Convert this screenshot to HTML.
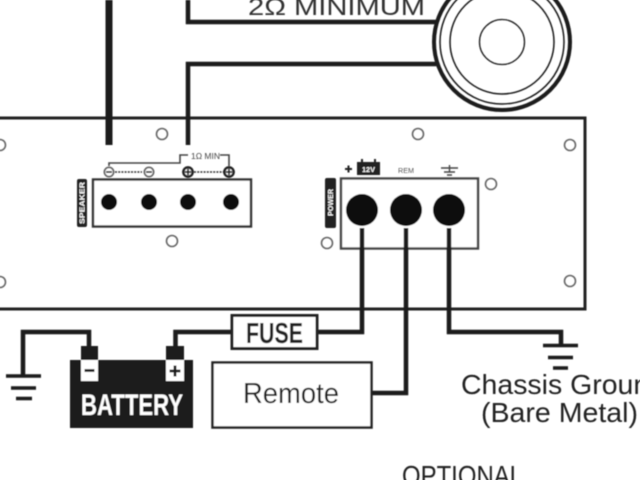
<!DOCTYPE html>
<html><head><meta charset="utf-8"><style>
html,body{margin:0;padding:0;background:#fff;width:640px;height:480px;overflow:hidden}
svg{display:block}
text{font-family:"Liberation Sans",sans-serif}
</style></head><body>
<svg width="640" height="480" viewBox="0 0 640 480" xmlns="http://www.w3.org/2000/svg">
<defs><filter id="b" x="0" y="0" width="100%" height="100%"><feGaussianBlur stdDeviation="0.45"/></filter></defs>
<rect width="640" height="480" fill="#fff"/>
<g filter="url(#b)">
<!-- speaker -->
<g fill="none" stroke="#1a1a1a">
<circle cx="502" cy="42" r="68" stroke-width="4"/>
<circle cx="502" cy="42" r="62" stroke-width="1.5"/>
<circle cx="502" cy="42" r="52" stroke-width="1.5"/>
<circle cx="502" cy="42" r="22.5" stroke-width="1.3"/>
</g>
<!-- amp -->
<path d="M-5 118H585V309H-5" fill="none" stroke="#222" stroke-width="3"/>
<g fill="none" stroke="#666" stroke-width="1.6">
<circle cx="0" cy="145" r="5.5"/><circle cx="0" cy="282" r="5.5"/>
<circle cx="162" cy="134" r="5.5"/><circle cx="172" cy="241" r="5.5"/>
<circle cx="418" cy="134" r="5.5"/><circle cx="327" cy="243" r="5.5"/>
<circle cx="491" cy="184" r="5.5"/><circle cx="570" cy="145" r="5.5"/><circle cx="570" cy="281" r="5.5"/>
</g>
<!-- speaker wires -->
<g fill="none" stroke="#1a1a1a" stroke-linejoin="miter">
<path d="M109 0V145" stroke-width="7"/>
<path d="M188 0V22H438" stroke-width="4.5"/>
<path d="M188 145V64H438" stroke-width="4.5"/>
</g>
<text x="248" y="15" font-size="24" fill="#333" textLength="177" lengthAdjust="spacingAndGlyphs">2Ω MINIMUM</text>
<!-- speaker terminal -->
<rect x="93" y="179.5" width="158" height="47" fill="#fff" stroke="#333" stroke-width="2.4"/>
<g fill="#111"><circle cx="109" cy="202" r="8"/><circle cx="149" cy="202" r="8"/><circle cx="188" cy="202" r="8"/><circle cx="231" cy="202" r="8"/></g>
<rect x="77" y="179" width="10" height="48" rx="2" fill="#222"/>
<text transform="translate(84.5,224) rotate(-90)" font-size="7" font-weight="bold" fill="#fff" textLength="42" lengthAdjust="spacingAndGlyphs">SPEAKER</text>
<path d="M109 166V163H180V155H188M220 155H229V166" fill="none" stroke="#444" stroke-width="1.6"/>
<text x="191" y="159" font-size="8.500" fill="#444" textLength="29" lengthAdjust="spacingAndGlyphs">1Ω MIN</text>
<path d="M115 172H142M194 172H225" stroke="#333" stroke-width="1.400" stroke-dasharray="2 1.200"/>
<circle cx="109" cy="172" r="4.600" fill="#fff" stroke="#666" stroke-width="1.800"/>
<circle cx="149" cy="172" r="4.600" fill="#fff" stroke="#666" stroke-width="1.800"/>
<path d="M106 172H112M146 172H152" stroke="#333" stroke-width="1.800"/>
<circle cx="188" cy="172" r="4.600" fill="#fff" stroke="#222" stroke-width="2.600"/>
<circle cx="229" cy="172" r="4.600" fill="#fff" stroke="#222" stroke-width="2.600"/>
<path d="M185 172H191M188 169V175M226 172H232M229 169V175" stroke="#222" stroke-width="1.800"/>
<!-- power terminal -->
<rect x="341" y="178.500" width="137" height="70" fill="#fff" stroke="#444" stroke-width="2.400"/>
<g fill="#111"><circle cx="362" cy="210" r="16"/><circle cx="406" cy="210" r="16"/><circle cx="449" cy="210" r="16"/></g>
<rect x="325" y="178" width="11" height="50" rx="2" fill="#222"/>
<text transform="translate(333,216) rotate(-90)" font-size="7" font-weight="bold" fill="#fff" textLength="27" lengthAdjust="spacingAndGlyphs">POWER</text>
<path d="M345 169H352M348.500 165.500V172.500" stroke="#222" stroke-width="2"/>
<rect x="357" y="162" width="23" height="13" fill="#222"/>
<path d="M362 162V159M375 162V159" stroke="#222" stroke-width="2"/>
<text x="362" y="172" font-size="7.500" font-weight="bold" fill="#fff" textLength="13" lengthAdjust="spacingAndGlyphs">12V</text>
<text x="398" y="173" font-size="7" fill="#555" textLength="16" lengthAdjust="spacingAndGlyphs">REM</text>
<path d="M441 168H458M444 172H455M447 175H452M449.500 165V172" stroke="#444" stroke-width="1.400" fill="none"/>
<!-- power wires -->
<g fill="none" stroke="#1a1a1a" stroke-width="4.500">
<path d="M362 228V332H318"/>
<path d="M406 228V393H372"/>
<path d="M449 228V332H561V346"/>
<path d="M232 332H175.500V348"/>
<path d="M89 348V332H23V376"/>
</g>
<!-- fuse -->
<rect x="232" y="315.500" width="85" height="33" fill="#fff" stroke="#222" stroke-width="3"/>
<text x="246" y="343" font-size="29" font-weight="bold" fill="#222" textLength="57" lengthAdjust="spacingAndGlyphs">FUSE</text>
<!-- remote -->
<rect x="212.500" y="362.500" width="159" height="65" fill="#fff" stroke="#222" stroke-width="2.500"/>
<text x="243" y="403" font-size="29" fill="#222" textLength="96" lengthAdjust="spacingAndGlyphs">Remote</text>
<!-- battery -->
<rect x="70" y="360" width="123" height="68" fill="#1a1a1a"/>
<rect x="81" y="346" width="17" height="14" fill="#1a1a1a"/>
<rect x="166" y="346" width="18" height="14" fill="#1a1a1a"/>
<rect x="81" y="360" width="17" height="21" fill="#fff"/>
<rect x="166" y="360" width="18" height="21" fill="#fff"/>
<path d="M84.500 370.500H94.500M169.500 371H180.500M175 365.500V376.500" stroke="#1a1a1a" stroke-width="2.800"/>
<text x="81" y="415" font-size="30" font-weight="bold" fill="#fff" textLength="102" lengthAdjust="spacingAndGlyphs">BATTERY</text>
<!-- grounds -->
<g stroke="#1a1a1a" stroke-width="3.500">
<path d="M6 376H41M11 388H36M16 398.500H32"/>
<path d="M543 345.500H578M548 357.500H573M553 368H568"/>
</g>
<text x="461" y="394" font-size="28" fill="#222" textLength="204" lengthAdjust="spacingAndGlyphs">Chassis Ground</text>
<text x="481" y="422" font-size="28" fill="#222" textLength="157" lengthAdjust="spacingAndGlyphs">(Bare Metal)</text>
<text x="402" y="485" font-size="28" fill="#222" textLength="121" lengthAdjust="spacingAndGlyphs">OPTIONAL</text>
</g>
</svg>
</body></html>
